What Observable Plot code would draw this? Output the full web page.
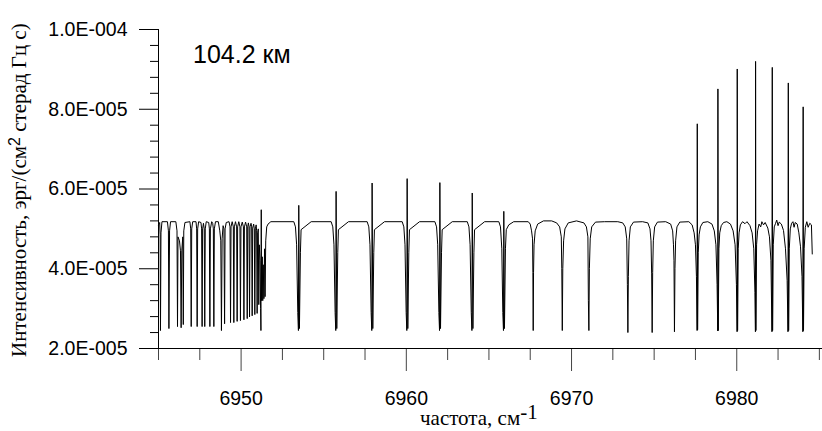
<!DOCTYPE html>
<html><head><meta charset="utf-8">
<script src="https://cdn.jsdelivr.net/npm/d3@7"></script>
<script src="https://cdn.jsdelivr.net/npm/@observablehq/plot@0.6"></script>
<style>
html,body{margin:0;padding:0;background:#fff}
#chart{width:822px;height:431px;overflow:hidden}
#chart svg{display:block}
</style>
</head><body><div id="chart"></div>
<script>
// ---- texts ----
const altitudeLabel = "104.2 км";
const yTitleMain = "Интенсивность, эрг/(см";
const yTitleSup = "2";
const yTitleEnd = " стерад Гц с)";
const xTitleMain = "частота, см";
const xTitleSup = "-1";

// ---- ticks (intensity in units of 1e-5) ----
const xTicksMajor = [6950, 6960, 6970, 6980];
const xTickLabels = ["6950", "6960", "6970", "6980"];
const xTicksMinor = [6945, 6947.5, 6952.5, 6955, 6957.5, 6962.5, 6965, 6967.5, 6972.5, 6975, 6977.5, 6982.5, 6985];
const yTicksMajor = [2, 4, 6, 8, 10];
const yTickLabels = ["2.0E-005", "4.0E-005", "6.0E-005", "8.0E-005", "1.0E-004"];
const yTicksMinor = [2.4, 2.8, 3.2, 3.6, 4.4, 4.8, 5.2, 5.6, 6.4, 6.8, 7.2, 7.6, 8.4, 8.8, 9.2, 9.6];

// ---- spectrum: [frequency cm^-1, intensity 1e-5] ----
const bandHead = [
 [6945.00,5.10],[6945.07,5.16],[6945.10,4.85],[6945.12,2.45],[6945.15,4.90],[6945.21,5.18],
 [6945.54,5.18],[6945.60,4.95],[6945.63,2.50],[6945.67,4.95],[6945.73,5.18],
 [6946.05,5.18],[6946.12,4.95],[6946.15,2.55],[6946.18,4.80],[6946.27,4.70],[6946.33,4.45],[6946.37,2.52],[6946.41,4.45],[6946.47,4.80],[6946.50,2.60],[6946.53,4.95],[6946.60,5.16],
 [6946.90,5.18],[6946.95,5.00],[6946.98,2.55],[6947.01,5.00],[6947.07,5.18],
 [6947.27,5.18],[6947.31,5.00],[6947.34,2.55],[6947.37,5.00],[6947.43,5.18],
 [6947.57,5.16],[6947.61,5.00],[6947.64,2.55],[6947.67,5.00],[6947.72,5.14],[6947.77,5.00],[6947.80,2.55],[6947.83,5.00],[6947.89,5.18],
 [6948.04,5.16],[6948.08,5.00],[6948.11,2.55],[6948.14,5.00],[6948.22,5.18],[6948.28,5.14],[6948.32,5.00],[6948.35,2.55],[6948.38,5.00],[6948.45,5.18],
 [6948.62,5.18],[6948.71,4.95],[6948.77,4.70],[6948.81,2.45],[6948.85,4.75],[6948.91,5.08],[6948.96,5.00],[6949.00,2.62],[6949.03,5.00],[6949.10,5.16],
 [6949.27,5.18],[6949.33,5.05],[6949.36,2.65],[6949.39,5.05],[6949.46,5.18],
 [6949.53,5.05],[6949.56,2.65],[6949.59,5.05],[6949.66,5.18],
 [6949.73,5.05],[6949.76,2.68],[6949.79,5.05],[6949.86,5.18],
 [6949.93,5.05],[6949.96,2.70],[6949.99,5.05],[6950.07,5.17],
 [6950.14,5.05],[6950.17,2.72],[6950.20,5.05],[6950.27,5.17],
 [6950.34,5.05],[6950.37,2.75],[6950.40,5.05],[6950.44,5.15],
 [6950.48,5.05],[6950.51,2.79],[6950.54,5.05],[6950.60,5.14],
 [6950.64,5.05],[6950.67,2.82],[6950.70,5.02],[6950.76,5.12],
 [6950.80,5.00],[6950.83,2.85],[6950.86,5.00],[6950.91,5.10],
 [6950.94,4.95],[6950.97,2.88],[6951.00,4.90],[6951.04,5.00],[6951.07,3.10],[6951.10,4.60],[6951.15,4.20],[6951.18,3.00],
 [6951.20,2.45],[6951.22,5.48],[6951.24,3.20],[6951.28,4.30],[6951.31,3.20],[6951.34,4.10],[6951.38,3.25],[6951.42,4.50],
 [6951.45,3.30],[6951.49,4.70],[6951.55,5.05],[6951.63,5.12],[6951.80,5.18]
];
const lowBranch = [
 [6953.19,5.18],[6953.29,5.05],[6953.36,4.60],[6953.43,2.90],[6953.47,2.45],[6953.49,5.59],[6953.53,2.50],[6953.59,4.40],[6953.63,4.98],[6954.24,5.18],
 [6955.45,5.18],[6955.55,5.05],[6955.62,4.60],[6955.69,2.90],[6955.73,2.45],[6955.75,5.94],[6955.79,2.50],[6955.85,4.40],[6955.89,4.98],[6956.50,5.18],
 [6957.63,5.18],[6957.73,5.05],[6957.80,4.60],[6957.87,2.90],[6957.91,2.45],[6957.93,6.15],[6957.97,2.50],[6958.03,4.40],[6958.07,4.98],[6958.68,5.18],
 [6959.75,5.18],[6959.85,5.05],[6959.92,4.60],[6959.99,2.90],[6960.03,2.45],[6960.05,6.26],[6960.09,2.50],[6960.15,4.40],[6960.19,4.98],[6960.80,5.18],
 [6961.73,5.18],[6961.83,5.05],[6961.90,4.60],[6961.97,2.90],[6962.01,2.45],[6962.03,6.16],[6962.07,2.50],[6962.13,4.40],[6962.17,4.98],[6962.78,5.18],
 [6963.69,5.18],[6963.79,5.05],[6963.86,4.60],[6963.93,2.90],[6963.97,2.45],[6963.99,5.90],[6964.03,2.50],[6964.09,4.40],[6964.13,4.98],[6964.74,5.18],
 [6965.60,5.18],[6965.70,5.05],[6965.78,4.50],[6965.84,2.90],[6965.88,2.45],[6965.90,5.44],[6965.94,2.50],[6966.00,4.50],[6966.05,4.98],[6966.20,5.10],[6966.50,5.18],
 [6967.38,5.18],[6967.50,5.12],[6967.58,4.95],[6967.64,4.75],[6967.66,3.90],[6967.68,2.45],[6967.70,3.90],[6967.73,4.60],[6967.80,4.95],[6967.95,5.12],[6968.30,5.20],[6968.80,5.20],[6969.10,5.15],
 [6969.28,5.05],[6969.38,4.80],[6969.41,4.00],[6969.44,2.45],[6969.47,4.00],[6969.52,4.70],[6969.60,5.00],[6969.80,5.15],[6970.30,5.20],[6970.75,5.15],
 [6970.90,5.05],[6970.99,4.80],[6971.02,3.20],[6971.05,2.45],[6971.08,4.00],[6971.13,4.75],[6971.22,5.05],[6971.45,5.17],[6972.00,5.18],[6972.80,5.18],[6973.10,5.15]
];
const highBranch = [
 [6973.25,5.05],[6973.34,4.75],[6973.38,3.60],[6973.41,2.40],[6973.44,3.80],[6973.48,4.70],[6973.56,5.05],[6973.75,5.17],[6974.30,5.18],[6974.62,5.15],
 [6974.75,5.00],[6974.81,4.70],[6974.85,3.87],[6974.88,2.40],[6974.91,3.90],[6974.95,4.70],[6975.03,5.05],[6975.20,5.17],[6975.70,5.18],[6976.00,5.12],
 [6976.12,4.95],[6976.17,4.60],[6976.20,4.20],[6976.23,2.42],[6976.26,4.00],[6976.30,4.70],[6976.38,5.05],[6976.55,5.17],[6977.10,5.18],[6977.30,5.10],
 [6977.42,4.90],[6977.50,4.60],[6977.56,3.80],[6977.60,2.45],[6977.61,7.635],[6977.63,2.47],[6977.67,4.40],[6977.72,4.85],[6977.80,5.05],[6977.95,5.16],[6978.25,5.18],[6978.50,5.12],
 [6978.64,4.95],[6978.74,4.60],[6978.81,3.60],[6978.85,2.44],[6978.86,8.51],[6978.88,2.45],[6978.92,4.50],[6978.97,4.90],[6979.06,5.08],[6979.20,5.16],[6979.40,5.18],[6979.62,5.12],
 [6979.78,4.95],[6979.90,4.60],[6979.98,3.60],[6980.02,2.42],[6980.03,9.01],[6980.05,2.45],[6980.09,4.50],[6980.14,4.90],[6980.22,5.10],[6980.35,5.18],[6980.50,5.13],[6980.62,5.18],[6980.80,5.08],
 [6980.93,4.90],[6981.03,4.50],[6981.10,3.40],[6981.13,2.42],[6981.14,9.20],[6981.16,2.45],[6981.20,4.60],[6981.26,4.95],[6981.35,5.12],[6981.45,5.05],[6981.52,5.18],[6981.62,5.10],[6981.72,5.16],[6981.88,5.02],
 [6981.98,4.80],[6982.07,4.20],[6982.13,2.42],[6982.15,9.05],[6982.17,2.45],[6982.21,4.60],[6982.27,5.05],[6982.35,5.14],[6982.42,5.22],[6982.50,5.08],[6982.57,5.17],[6982.70,5.12],[6982.83,4.96],
 [6982.95,4.50],[6983.05,3.70],[6983.10,2.42],[6983.12,8.66],[6983.14,2.45],[6983.18,4.50],[6983.24,5.00],[6983.32,5.14],[6983.40,5.18],[6983.47,5.04],[6983.54,5.16],[6983.66,5.12],[6983.76,4.90],
 [6983.86,4.55],[6983.95,3.80],[6984.00,2.42],[6984.02,8.06],[6984.04,2.45],[6984.08,4.50],[6984.15,5.04],[6984.24,5.18],[6984.32,5.04],[6984.42,5.14],[6984.52,5.10],[6984.57,4.37]
];

const spectrum = [...bandHead, ...lowBranch, ...highBranch].map(([f, v]) => ({f, v}));

const sans = "'Liberation Sans', Arial, Helvetica, sans-serif";
const serif = "'Liberation Serif', 'Times New Roman', serif";

const plot = Plot.plot({
  width: 822, height: 431,
  marginLeft: 158, marginRight: 0, marginTop: 29, marginBottom: 83,
  x: {domain: [6945, 6985.19]},
  y: {domain: [2, 10]},
  style: {fontFamily: sans, fontSize: "20px", color: "#000", background: "#fff", overflow: "visible"},
  marks: [
    Plot.axisY(yTicksMinor, {tickSize: 8, text: null, label: null, stroke: "#000"}),
    Plot.axisY(yTicksMajor, {tickSize: 19, tickPadding: 12, label: null, stroke: "#000",
      tickFormat: d => yTickLabels[yTicksMajor.indexOf(d)], fontSize: 19.5}),
    Plot.axisX(xTicksMinor, {tickSize: 12, text: null, label: null, stroke: "#444"}),
    Plot.axisX(xTicksMajor, {tickSize: 23, tickPadding: 20, label: null, stroke: "#444",
      tickFormat: d => xTickLabels[xTicksMajor.indexOf(d)], fontSize: 19.5}),
    Plot.ruleX([6945], {y1: 2, y2: 10, stroke: "#000"}),
    Plot.ruleY([2], {stroke: "#000"}),
    Plot.line(spectrum, {x: "f", y: "v", stroke: "#000", strokeWidth: 1})
  ]
});

document.getElementById("chart").appendChild(plot);
const svg = d3.select(plot);

svg.append("text")
  .attr("x", 193).attr("y", 63).attr("text-anchor", "start")
  .attr("font-family", sans).attr("font-size", 25).attr("fill", "#000")
  .text(altitudeLabel);

const yt = svg.append("text")
  .attr("transform", "translate(26,357) rotate(-90)").attr("text-anchor", "start")
  .attr("font-family", serif).attr("font-size", 21).attr("fill", "#000");
yt.append("tspan").text(yTitleMain);
yt.append("tspan").attr("font-family", sans).attr("font-size", 16).attr("dy", -6).text(yTitleSup);
yt.append("tspan").attr("dy", 6).text(yTitleEnd);

const xt = svg.append("text")
  .attr("x", 420).attr("y", 425).attr("text-anchor", "start")
  .attr("font-family", serif).attr("font-size", 21).attr("fill", "#000");
xt.append("tspan").text(xTitleMain);
xt.append("tspan").attr("dy", -6).text(xTitleSup);
</script>
</body></html>
